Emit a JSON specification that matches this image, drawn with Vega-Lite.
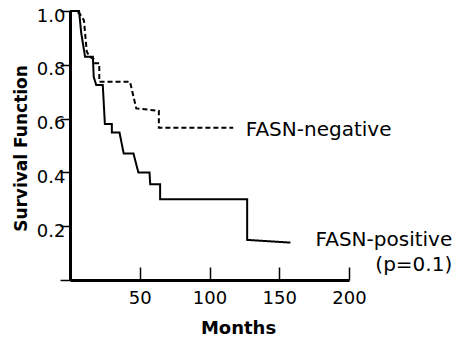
{
  "$schema": "https://vega.github.io/schema/vega-lite/v6.json",
  "autosize": {"type": "none"},
  "padding": {"left": 70, "top": 11, "right": 105, "bottom": 62},
  "width": 279,
  "height": 269,
  "config": {
    "font": "DejaVu Sans",
    "view": {"stroke": null},
    "axis": {"grid": false, "domainColor": "black", "tickColor": "black", "labelColor": "black", "titleColor": "black", "domainWidth": 3}
  },
  "datasets": {
    "km": [
      {"group": "FASN-positive", "months": 0, "survival": 1.0},
      {"group": "FASN-positive", "months": 6.5, "survival": 1.0},
      {"group": "FASN-positive", "months": 8, "survival": 0.92},
      {"group": "FASN-positive", "months": 10.8, "survival": 0.83},
      {"group": "FASN-positive", "months": 16.4, "survival": 0.83},
      {"group": "FASN-positive", "months": 17, "survival": 0.755},
      {"group": "FASN-positive", "months": 18.8, "survival": 0.725},
      {"group": "FASN-positive", "months": 23.5, "survival": 0.725},
      {"group": "FASN-positive", "months": 25, "survival": 0.58},
      {"group": "FASN-positive", "months": 30, "survival": 0.58},
      {"group": "FASN-positive", "months": 30, "survival": 0.548},
      {"group": "FASN-positive", "months": 35.5, "survival": 0.548},
      {"group": "FASN-positive", "months": 38.5, "survival": 0.47},
      {"group": "FASN-positive", "months": 45.5, "survival": 0.47},
      {"group": "FASN-positive", "months": 49, "survival": 0.4},
      {"group": "FASN-positive", "months": 57, "survival": 0.4},
      {"group": "FASN-positive", "months": 57.5, "survival": 0.356},
      {"group": "FASN-positive", "months": 64.6, "survival": 0.356},
      {"group": "FASN-positive", "months": 64.6, "survival": 0.3},
      {"group": "FASN-positive", "months": 127, "survival": 0.3},
      {"group": "FASN-positive", "months": 127, "survival": 0.149},
      {"group": "FASN-positive", "months": 158, "survival": 0.139},
      {"group": "FASN-negative", "months": 0, "survival": 1.0},
      {"group": "FASN-negative", "months": 4, "survival": 1.0},
      {"group": "FASN-negative", "months": 7, "survival": 0.99},
      {"group": "FASN-negative", "months": 10, "survival": 0.965},
      {"group": "FASN-negative", "months": 12, "survival": 0.85},
      {"group": "FASN-negative", "months": 14, "survival": 0.83},
      {"group": "FASN-negative", "months": 17.5, "survival": 0.82},
      {"group": "FASN-negative", "months": 18, "survival": 0.806},
      {"group": "FASN-negative", "months": 21, "survival": 0.806},
      {"group": "FASN-negative", "months": 21, "survival": 0.737},
      {"group": "FASN-negative", "months": 43, "survival": 0.737},
      {"group": "FASN-negative", "months": 47.5, "survival": 0.638},
      {"group": "FASN-negative", "months": 63.7, "survival": 0.629},
      {"group": "FASN-negative", "months": 63.7, "survival": 0.566},
      {"group": "FASN-negative", "months": 117, "survival": 0.566}
    ],
    "labels": [
      {"label": "FASN-negative", "months": 126, "survival": 0.559},
      {"label": "FASN-positive", "months": 274, "survival": 0.149},
      {"label": "(p=0.1)", "months": 274, "survival": 0.056}
    ]
  },
  "layer": [
    {
      "data": {"name": "km"},
      "mark": {"type": "line", "color": "black", "strokeWidth": 2, "clip": false},
      "encoding": {
        "x": {
          "field": "months", "type": "quantitative",
          "scale": {"domain": [0, 200], "nice": false, "zero": false},
          "axis": {
            "title": "Months", "titleFontSize": 18, "titleFontWeight": "bold",
            "titleX": 168, "titlePadding": 12,
            "values": [50, 100, 150, 200], "tickSize": -13, "tickWidth": 1.5,
            "labelFontSize": 18, "labelPadding": 22, "labelFlush": false
          }
        },
        "y": {
          "field": "survival", "type": "quantitative",
          "scale": {"domain": [0, 1], "nice": false},
          "axis": {
            "title": "Survival Function", "titleFontSize": 17, "titleFontWeight": "bold",
            "titlePadding": 6, "titleY": 137,
            "values": [0, 0.2, 0.4, 0.6, 0.8, 1.0],
            "labelExpr": "datum.value == 0 ? '' : format(datum.value, '.1f')",
            "tickSize": 10, "tickWidth": 1.5, "labelPadding": -5,
            "labelFontSize": 18, "labelOffset": 5, "labelFlush": false
          }
        },
        "strokeDash": {
          "field": "group", "type": "nominal",
          "scale": {"domain": ["FASN-positive", "FASN-negative"], "range": [[1, 0], [5, 3]]},
          "legend": null
        },
        "order": {"value": null}
      }
    },
    {
      "data": {"name": "labels"},
      "transform": [{"filter": "datum.label == 'FASN-negative'"}],
      "mark": {"type": "text", "align": "left", "baseline": "middle", "fontSize": 20, "color": "black"},
      "encoding": {
        "x": {"field": "months", "type": "quantitative"},
        "y": {"field": "survival", "type": "quantitative"},
        "text": {"field": "label"}
      }
    },
    {
      "data": {"name": "labels"},
      "transform": [{"filter": "datum.label != 'FASN-negative'"}],
      "mark": {"type": "text", "align": "right", "baseline": "middle", "fontSize": 20, "color": "black"},
      "encoding": {
        "x": {"field": "months", "type": "quantitative"},
        "y": {"field": "survival", "type": "quantitative"},
        "text": {"field": "label"}
      }
    }
  ]
}
